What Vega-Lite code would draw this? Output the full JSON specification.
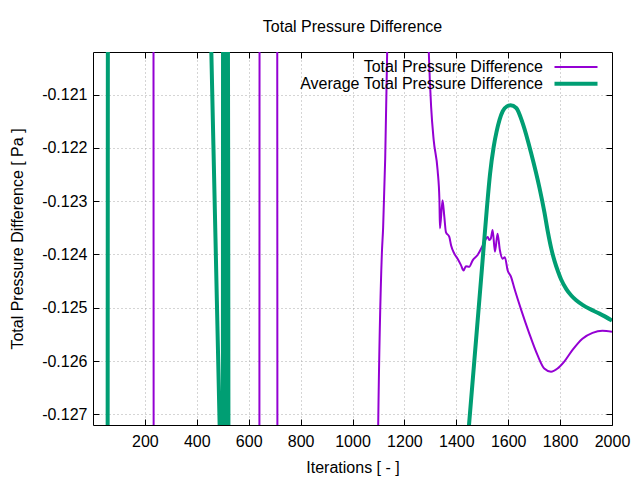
{
  "$schema": "https://vega.github.io/schema/vega-lite/v6.json",
  "width": 519,
  "height": 373,
  "autosize": {"type": "none"},
  "padding": {"left": 93, "top": 52, "right": 28, "bottom": 55},
  "background": "white",
  "title": {"text": "Total Pressure Difference", "fontSize": 16, "font": "Liberation Sans", "fontWeight": "normal", "color": "black", "offset": 17, "anchor": "middle", "frame": "group"},
  "data": {"values": [
    {"it": 1, "v": -0.100, "s": "Total Pressure Difference"},
    {"it": 232, "v": -0.110, "s": "Total Pressure Difference"},
    {"it": 235, "v": -0.140, "s": "Total Pressure Difference"},
    {"it": 640, "v": -0.138, "s": "Total Pressure Difference"},
    {"it": 643, "v": -0.110, "s": "Total Pressure Difference"},
    {"it": 709, "v": -0.112, "s": "Total Pressure Difference"},
    {"it": 712, "v": -0.140, "s": "Total Pressure Difference"},
    {"it": 1000, "v": -0.135, "s": "Total Pressure Difference"},
    {"it": 1090, "v": -0.1320, "s": "Total Pressure Difference"},
    {"it": 1096, "v": -0.1285, "s": "Total Pressure Difference"},
    {"it": 1113, "v": -0.1240, "s": "Total Pressure Difference"},
    {"it": 1118, "v": -0.1235, "s": "Total Pressure Difference"},
    {"it": 1126, "v": -0.1222, "s": "Total Pressure Difference"},
    {"it": 1135, "v": -0.1198, "s": "Total Pressure Difference"},
    {"it": 1145, "v": -0.1170, "s": "Total Pressure Difference"},
    {"it": 1280, "v": -0.1170, "s": "Total Pressure Difference"},
    {"it": 1294, "v": -0.1202, "s": "Total Pressure Difference"},
    {"it": 1303, "v": -0.12123, "s": "Total Pressure Difference"},
    {"it": 1313, "v": -0.12186, "s": "Total Pressure Difference"},
    {"it": 1328, "v": -0.12242, "s": "Total Pressure Difference"},
    {"it": 1335, "v": -0.12298, "s": "Total Pressure Difference"},
    {"it": 1337, "v": -0.12351, "s": "Total Pressure Difference"},
    {"it": 1347, "v": -0.12298, "s": "Total Pressure Difference"},
    {"it": 1354, "v": -0.12330, "s": "Total Pressure Difference"},
    {"it": 1360, "v": -0.12358, "s": "Total Pressure Difference"},
    {"it": 1373, "v": -0.12367, "s": "Total Pressure Difference"},
    {"it": 1380, "v": -0.12383, "s": "Total Pressure Difference"},
    {"it": 1392, "v": -0.12398, "s": "Total Pressure Difference"},
    {"it": 1405, "v": -0.12408, "s": "Total Pressure Difference"},
    {"it": 1418, "v": -0.12420, "s": "Total Pressure Difference"},
    {"it": 1428, "v": -0.12430, "s": "Total Pressure Difference"},
    {"it": 1437, "v": -0.12422, "s": "Total Pressure Difference"},
    {"it": 1450, "v": -0.12423, "s": "Total Pressure Difference"},
    {"it": 1463, "v": -0.12411, "s": "Total Pressure Difference"},
    {"it": 1482, "v": -0.12401, "s": "Total Pressure Difference"},
    {"it": 1502, "v": -0.12383, "s": "Total Pressure Difference"},
    {"it": 1521, "v": -0.12367, "s": "Total Pressure Difference"},
    {"it": 1527, "v": -0.12373, "s": "Total Pressure Difference"},
    {"it": 1533, "v": -0.12370, "s": "Total Pressure Difference"},
    {"it": 1540, "v": -0.12354, "s": "Total Pressure Difference"},
    {"it": 1549, "v": -0.12395, "s": "Total Pressure Difference"},
    {"it": 1559, "v": -0.12361, "s": "Total Pressure Difference"},
    {"it": 1568, "v": -0.12392, "s": "Total Pressure Difference"},
    {"it": 1579, "v": -0.12408, "s": "Total Pressure Difference"},
    {"it": 1587, "v": -0.12405, "s": "Total Pressure Difference"},
    {"it": 1598, "v": -0.12430, "s": "Total Pressure Difference"},
    {"it": 1611, "v": -0.12442, "s": "Total Pressure Difference"},
    {"it": 1624, "v": -0.12464, "s": "Total Pressure Difference"},
    {"it": 1650, "v": -0.12504, "s": "Total Pressure Difference"},
    {"it": 1681, "v": -0.12548, "s": "Total Pressure Difference"},
    {"it": 1713, "v": -0.12589, "s": "Total Pressure Difference"},
    {"it": 1739, "v": -0.12614, "s": "Total Pressure Difference"},
    {"it": 1765, "v": -0.12620, "s": "Total Pressure Difference"},
    {"it": 1790, "v": -0.12614, "s": "Total Pressure Difference"},
    {"it": 1816, "v": -0.12601, "s": "Total Pressure Difference"},
    {"it": 1848, "v": -0.12579, "s": "Total Pressure Difference"},
    {"it": 1886, "v": -0.12558, "s": "Total Pressure Difference"},
    {"it": 1925, "v": -0.12547, "s": "Total Pressure Difference"},
    {"it": 1963, "v": -0.12543, "s": "Total Pressure Difference"},
    {"it": 2000, "v": -0.12545, "s": "Total Pressure Difference"},
    {"it": 1, "v": -0.160, "s": "Average Total Pressure Difference"},
    {"it": 55, "v": -0.140, "s": "Average Total Pressure Difference"},
    {"it": 59, "v": -0.105, "s": "Average Total Pressure Difference"},
    {"it": 300, "v": -0.100, "s": "Average Total Pressure Difference"},
    {"it": 440, "v": -0.1167, "s": "Average Total Pressure Difference"},
    {"it": 456, "v": -0.1202, "s": "Average Total Pressure Difference"},
    {"it": 472, "v": -0.1237, "s": "Average Total Pressure Difference"},
    {"it": 488, "v": -0.1272, "s": "Average Total Pressure Difference"},
    {"it": 500, "v": -0.1298, "s": "Average Total Pressure Difference"},
    {"it": 502, "v": -0.1130, "s": "Average Total Pressure Difference"},
    {"it": 506, "v": -0.1320, "s": "Average Total Pressure Difference"},
    {"it": 508, "v": -0.1140, "s": "Average Total Pressure Difference"},
    {"it": 511, "v": -0.12536, "s": "Average Total Pressure Difference"},
    {"it": 513, "v": -0.1140, "s": "Average Total Pressure Difference"},
    {"it": 516, "v": -0.1320, "s": "Average Total Pressure Difference"},
    {"it": 518, "v": -0.1150, "s": "Average Total Pressure Difference"},
    {"it": 521, "v": -0.1228, "s": "Average Total Pressure Difference"},
    {"it": 523, "v": -0.1320, "s": "Average Total Pressure Difference"},
    {"it": 600, "v": -0.140, "s": "Average Total Pressure Difference"},
    {"it": 1000, "v": -0.142, "s": "Average Total Pressure Difference"},
    {"it": 1300, "v": -0.136, "s": "Average Total Pressure Difference"},
    {"it": 1400, "v": -0.1300, "s": "Average Total Pressure Difference"},
    {"it": 1430, "v": -0.1283, "s": "Average Total Pressure Difference"},
    {"it": 1449, "v": -0.12720, "s": "Average Total Pressure Difference"},
    {"it": 1476, "v": -0.12561, "s": "Average Total Pressure Difference"},
    {"it": 1499, "v": -0.12425, "s": "Average Total Pressure Difference"},
    {"it": 1517, "v": -0.12318, "s": "Average Total Pressure Difference"},
    {"it": 1530, "v": -0.12249, "s": "Average Total Pressure Difference"},
    {"it": 1544, "v": -0.12198, "s": "Average Total Pressure Difference"},
    {"it": 1555, "v": -0.12170, "s": "Average Total Pressure Difference"},
    {"it": 1579, "v": -0.12131, "s": "Average Total Pressure Difference"},
    {"it": 1595, "v": -0.12122, "s": "Average Total Pressure Difference"},
    {"it": 1609, "v": -0.12120, "s": "Average Total Pressure Difference"},
    {"it": 1631, "v": -0.12125, "s": "Average Total Pressure Difference"},
    {"it": 1656, "v": -0.12154, "s": "Average Total Pressure Difference"},
    {"it": 1689, "v": -0.12211, "s": "Average Total Pressure Difference"},
    {"it": 1721, "v": -0.12276, "s": "Average Total Pressure Difference"},
    {"it": 1740, "v": -0.12322, "s": "Average Total Pressure Difference"},
    {"it": 1753, "v": -0.12358, "s": "Average Total Pressure Difference"},
    {"it": 1766, "v": -0.12389, "s": "Average Total Pressure Difference"},
    {"it": 1779, "v": -0.12413, "s": "Average Total Pressure Difference"},
    {"it": 1792, "v": -0.12432, "s": "Average Total Pressure Difference"},
    {"it": 1804, "v": -0.12447, "s": "Average Total Pressure Difference"},
    {"it": 1824, "v": -0.12465, "s": "Average Total Pressure Difference"},
    {"it": 1843, "v": -0.12477, "s": "Average Total Pressure Difference"},
    {"it": 1862, "v": -0.12486, "s": "Average Total Pressure Difference"},
    {"it": 1888, "v": -0.12495, "s": "Average Total Pressure Difference"},
    {"it": 1913, "v": -0.12502, "s": "Average Total Pressure Difference"},
    {"it": 1952, "v": -0.12511, "s": "Average Total Pressure Difference"},
    {"it": 2000, "v": -0.12524, "s": "Average Total Pressure Difference"}
  ]},
  "layer": [
    {
      "transform": [{"filter": "datum.s === 'Total Pressure Difference'"}],
      "mark": {"type": "line", "clip": true, "strokeJoin": "round", "interpolate": "monotone"},
      "encoding": {
        "x": {"field": "it", "type": "quantitative", "scale": {"domain": [0, 2000], "nice": false, "zero": false},
              "axis": {"orient": "bottom", "values": [200, 400, 600, 800, 1000, 1200, 1400, 1600, 1800, 2000], "format": "d", "labelOverlap": false, "labelFlush": false, "labelBound": false, "title": "Iterations [ - ]", "grid": true, "labelPadding": 14, "titlePadding": 10}},
        "y": {"field": "v", "type": "quantitative", "scale": {"domain": [-0.1272, -0.1202], "nice": false, "zero": false},
              "axis": {"orient": "left", "values": [-0.127, -0.126, -0.125, -0.124, -0.123, -0.122, -0.121], "labelExpr": "replace(format(datum.value, '.3f'), '\u2212', '-')", "labelOverlap": false, "labelFlush": false, "title": "Total Pressure Difference [ Pa ]", "grid": true, "labelPadding": 12, "titlePadding": 16}},
        "color": {"field": "s", "type": "nominal", "scale": {"domain": ["Total Pressure Difference", "Average Total Pressure Difference"], "range": ["#9400d3", "#009e73"]}},
        "strokeWidth": {"field": "s", "type": "ordinal", "scale": {"domain": ["Total Pressure Difference", "Average Total Pressure Difference"], "range": [2, 4]}}
      }
    },
    {
      "transform": [{"filter": "datum.s === 'Average Total Pressure Difference'"}],
      "mark": {"type": "line", "clip": true, "strokeJoin": "round", "interpolate": "monotone"},
      "encoding": {
        "x": {"field": "it", "type": "quantitative",
              "axis": {"orient": "top", "values": [200, 400, 600, 800, 1000, 1200, 1400, 1600, 1800], "labels": false, "title": null, "grid": false}},
        "y": {"field": "v", "type": "quantitative",
              "axis": {"orient": "right", "values": [-0.127, -0.126, -0.125, -0.124, -0.123, -0.122, -0.121], "labels": false, "title": null, "grid": false}},
        "color": {"field": "s", "type": "nominal", "scale": {"domain": ["Total Pressure Difference", "Average Total Pressure Difference"], "range": ["#9400d3", "#009e73"]}},
        "strokeWidth": {"field": "s", "type": "ordinal", "scale": {"domain": ["Total Pressure Difference", "Average Total Pressure Difference"], "range": [2, 4]}}
      }
    }
  ],
  "resolve": {"axis": {"x": "independent", "y": "independent"}},
  "config": {
    "view": {"stroke": null},
    "font": "Liberation Sans",
    "axis": {
      "domainColor": "black", "domainWidth": 1, "tickColor": "black", "tickSize": -6, "tickWidth": 1,
      "labelFont": "Liberation Sans", "labelFontSize": 16, "labelColor": "black",
      "titleFont": "Liberation Sans", "titleFontSize": 16, "titleFontWeight": "normal", "titleColor": "black",
      "gridColor": "#aaaaaa", "gridDash": [1, 3], "gridWidth": 1
    },
    "legend": {
      "orient": "none", "legendX": 475, "legendY": 7, "title": null, "padding": 0,
      "labelAlign": "right", "labelOffset": -41, "labelLimit": 400,
      "symbolSize": 115.6, "symbolType": "M-4,0H4", "rowPadding": 0.7,
      "labelFont": "Liberation Sans", "labelFontSize": 16, "labelColor": "black"
    }
  }
}
